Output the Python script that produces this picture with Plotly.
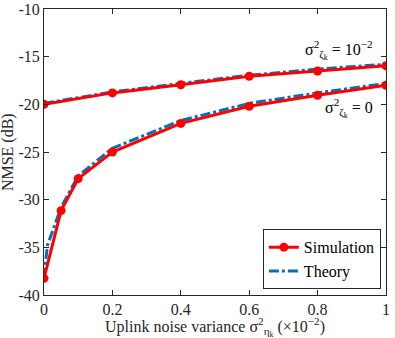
import plotly.graph_objects as go

# uplink noise variance (x 10^-2)
x_sim = [0, 0.05, 0.1, 0.2, 0.4, 0.6, 0.8, 1.0]
x_theory = [0, 0.01, 0.05, 0.1, 0.2, 0.4, 0.6, 0.8, 1.0]
x_upper = [0, 0.2, 0.4, 0.6, 0.8, 1.0]

sim_upper = [-20.0, -18.8, -17.95, -17.05, -16.5, -15.95]
theory_upper = [-19.9, -18.7, -17.8, -16.95, -16.3, -15.8]

sim_lower = [-38.25, -31.15, -27.8, -25.0, -22.0, -20.2, -19.05, -18.0]
theory_lower = [-38.2, -34.8, -30.8, -27.5, -24.6, -21.7, -19.9, -18.8, -17.8]

red = "#FF0000"
blue = "#0072BD"
dash = "10px,3px,3px,3px"
font = "'Liberation Serif', 'DejaVu Serif', serif"

fig = go.Figure()

# theory drawn first so simulation sits on top
fig.add_trace(go.Scatter(
    x=x_theory, y=theory_lower, mode="lines", name="Theory", legendrank=2,
    line=dict(color=blue, width=3, dash=dash),
))
fig.add_trace(go.Scatter(
    x=x_upper, y=theory_upper, mode="lines", showlegend=False,
    line=dict(color=blue, width=3, dash=dash),
))
fig.add_trace(go.Scatter(
    x=x_sim, y=sim_lower, mode="lines+markers", name="Simulation", legendrank=1,
    line=dict(color=red, width=3), marker=dict(size=9, color=red),
))
fig.add_trace(go.Scatter(
    x=x_upper, y=sim_upper, mode="lines+markers", showlegend=False,
    line=dict(color=red, width=3), marker=dict(size=9, color=red),
))

fig.add_annotation(
    x=0.862, y=-14.3, xref="x", yref="y", showarrow=False,
    text="σ<sup>2</sup><sub>ζ<sub>k</sub></sub> = 10<sup>−2</sup>",
    font=dict(family=font, size=16, color="black"),
)
fig.add_annotation(
    x=0.892, y=-20.4, xref="x", yref="y", showarrow=False,
    text="σ<sup>2</sup><sub>ζ<sub>k</sub></sub> = 0",
    font=dict(family=font, size=16, color="black"),
)
# axis titles as annotations to keep the plot area fixed
fig.add_annotation(
    x=0.5, y=-0.113, xref="paper", yref="paper", showarrow=False,
    xanchor="center", yanchor="middle",
    text="Uplink noise variance σ<sup>2</sup><sub>η<sub>k</sub></sub> (×10<sup>−2</sup>)",
    font=dict(family=font, size=16, color="#262626"),
)
fig.add_annotation(
    x=-0.105, y=0.5, xref="paper", yref="paper", showarrow=False,
    xanchor="center", yanchor="middle", textangle=-90,
    text="NMSE (dB)",
    font=dict(family=font, size=16, color="#262626"),
)

axis_common = dict(
    showgrid=False, zeroline=False, showline=True, mirror="ticks",
    linecolor="#262626", linewidth=1, ticks="inside", ticklen=5,
    tickcolor="#262626", tickfont=dict(family=font, size=16, color="#262626"),
    ticklabeloverflow="allow", automargin=False,
)

fig.update_xaxes(
    range=[0, 1], tickvals=[0, 0.2, 0.4, 0.6, 0.8, 1],
    ticktext=["0", "0.2", "0.4", "0.6", "0.8", "1"],
    **axis_common,
)
fig.update_yaxes(
    range=[-40, -10], tickvals=[-40, -35, -30, -25, -20, -15, -10],
    ticktext=["-40", "-35", "-30", "-25", "-20", "-15", "-10"],
    **axis_common,
)

fig.update_layout(
    width=395, height=338,
    margin=dict(l=44, r=9, t=9, b=43),
    paper_bgcolor="white", plot_bgcolor="white",
    font=dict(family=font),
    legend=dict(
        x=0.985, y=0.02, xanchor="right", yanchor="bottom",
        bgcolor="white", bordercolor="#262626", borderwidth=1,
        font=dict(family=font, size=16, color="black"),
        tracegroupgap=0, itemwidth=30,
    ),
)

# the page body has a default 8px margin; drop it so the figure fills the window
fig.write_html(
    "out.html",
    config={"displayModeBar": False},
    post_script="document.body.style.margin='0';",
)
